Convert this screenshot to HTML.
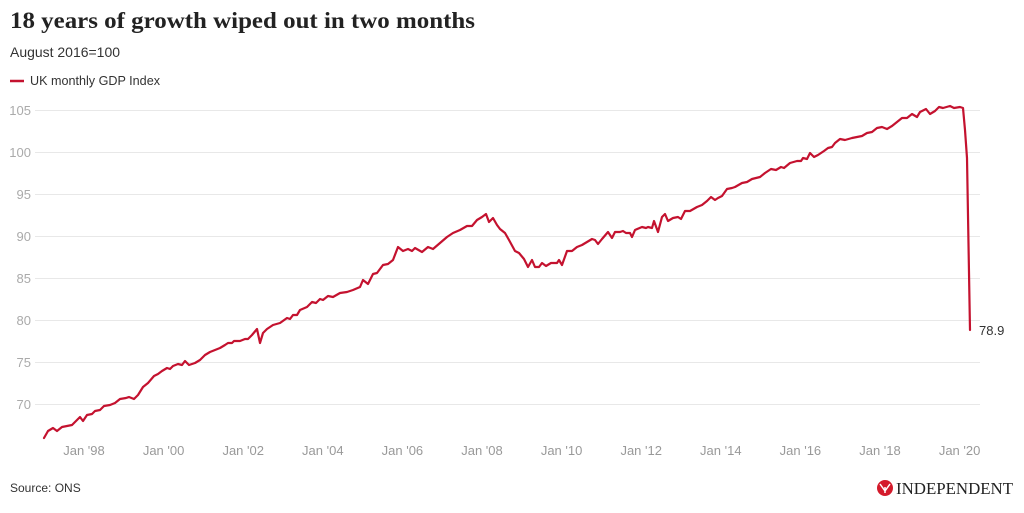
<!DOCTYPE html>
<html>
<head>
<meta charset="utf-8">
<style>
  html, body { margin:0; padding:0; background:#fff; }
  svg { display:block; }
  .sans { font-family: "Liberation Sans", "DejaVu Sans", sans-serif; }
  .serif { font-family: "Liberation Serif", "DejaVu Serif", serif; }
</style>
</head>
<body>
<svg width="1024" height="513" viewBox="0 0 1024 513" xmlns="http://www.w3.org/2000/svg">
  <rect width="1024" height="513" fill="#fff"/>
  <!-- Title -->
  <text x="10" y="28" class="serif" font-size="23" font-weight="bold" fill="#222" textLength="465" lengthAdjust="spacingAndGlyphs">18 years of growth wiped out in two months</text>
  <text x="10" y="57" class="sans" font-size="14" fill="#333" textLength="110" lengthAdjust="spacingAndGlyphs">August 2016=100</text>
  <!-- Legend -->
  <line x1="10" y1="81" x2="24" y2="81" stroke="#c4122f" stroke-width="2.5"/>
  <text x="30" y="85" class="sans" font-size="13" fill="#333" textLength="130" lengthAdjust="spacingAndGlyphs">UK monthly GDP Index</text>

  <!-- Grid lines -->
  <g stroke="#e8e8e8" stroke-width="1">
    <line x1="35" y1="110.5" x2="980" y2="110.5"/>
    <line x1="35" y1="152.5" x2="980" y2="152.5"/>
    <line x1="35" y1="194.5" x2="980" y2="194.5"/>
    <line x1="35" y1="236.5" x2="980" y2="236.5"/>
    <line x1="35" y1="278.5" x2="980" y2="278.5"/>
    <line x1="35" y1="320.5" x2="980" y2="320.5"/>
    <line x1="35" y1="362.5" x2="980" y2="362.5"/>
    <line x1="35" y1="404.5" x2="980" y2="404.5"/>
  </g>
  <!-- Y labels -->
  <g class="sans" font-size="13" fill="#aaa" text-anchor="end">
    <text x="31" y="115">105</text>
    <text x="31" y="157">100</text>
    <text x="31" y="199">95</text>
    <text x="31" y="241">90</text>
    <text x="31" y="283">85</text>
    <text x="31" y="325">80</text>
    <text x="31" y="367">75</text>
    <text x="31" y="409">70</text>
  </g>
  <!-- X labels -->
  <g class="sans" font-size="13" fill="#999" text-anchor="middle">
    <text x="84" y="455">Jan '98</text>
    <text x="163.6" y="455">Jan '00</text>
    <text x="243.2" y="455">Jan '02</text>
    <text x="322.8" y="455">Jan '04</text>
    <text x="402.4" y="455">Jan '06</text>
    <text x="482" y="455">Jan '08</text>
    <text x="561.6" y="455">Jan '10</text>
    <text x="641.2" y="455">Jan '12</text>
    <text x="720.8" y="455">Jan '14</text>
    <text x="800.4" y="455">Jan '16</text>
    <text x="880" y="455">Jan '18</text>
    <text x="959.6" y="455">Jan '20</text>
  </g>

  <!-- Series -->
  <polyline fill="none" stroke="#c4122f" stroke-width="2.2" stroke-linejoin="round" stroke-linecap="round"
    points="44,438 48,431 53,428 57,431 62,427 72,425 80,417 83,421 87,415 92,414 95,411 100,410 104,406 110,405 115,403 120,399 126,398 129,397 134,399 138,395 143,387 148,383 154,376 158,374 162,371 167,368 170,369 173,366 178,364 182,365 185,361 189,365 195,363 200,360 205,355 210,352 215,350 220,348 225,345 228,343 232,343 234,341 240,341 245,339 248,339 252,335 257,329 260,343 263,333 267,329 270,327 273,325 280,323 287,318 290,319 293,315 297,315 300,310 307,307 312,302 316,303 320,299 323,300 328,296 333,297 340,293 347,292 353,290 360,287 363,280 368,284 373,274 377,273 383,265 388,264 393,260 398,247 403,251 408,249 412,251 415,248 422,252 428,247 433,249 440,243 447,237 453,233 460,230 467,226 472,226 477,220 482,217 486,214 489,222 493,218 497,225 500,229 505,233 509,240 515,251 519,253 524,259 528,267 532,260 535,267 539,267 542,263 546,266 551,263 557,263 559,260 562,265 567,251 572,251 577,247 582,245 587,242 592,239 595,240 598,244 602,239 608,232 612,238 615,232 620,232 623,231 626,233 630,233 632,237 635,230 642,227 646,228 648,227 652,228 654,221 658,232 662,217 665,214 668,221 673,218 678,217 681,219 685,211 690,211 697,207 702,205 707,201 711,197 715,200 718,198 722,196 727,189 732,188 735,187 742,183 747,182 752,179 760,177 765,173 771,169 776,170 781,167 784,168 790,163 797,161 801,161 803,158 807,159 810,153 814,157 818,155 824,151 828,148 832,147 835,143 840,139 845,140 852,138 857,137 862,136 867,133 872,132 877,128 882,127 887,129 892,126 897,122 902,118 907,118 912,114 917,117 920,112 926,109 930,114 935,111 939,107 943,108 950,106 954,108 960,107 963,108 965,130 967,158 970,330"/>
  <text x="979" y="335" class="sans" font-size="13" fill="#333">78.9</text>

  <!-- Footer -->
  <text x="10" y="492" class="sans" font-size="12" fill="#333">Source: ONS</text>
  <circle cx="885" cy="488" r="8" fill="#d41b2c"/>
  <path d="M880,484 L885,491 L890,484 M885,487 L885,493" stroke="#fff" stroke-width="1.5" fill="none"/>
  <text x="896" y="494" class="serif" font-size="17" fill="#222" textLength="117" lengthAdjust="spacingAndGlyphs">INDEPENDENT</text>
</svg>
</body>
</html>
